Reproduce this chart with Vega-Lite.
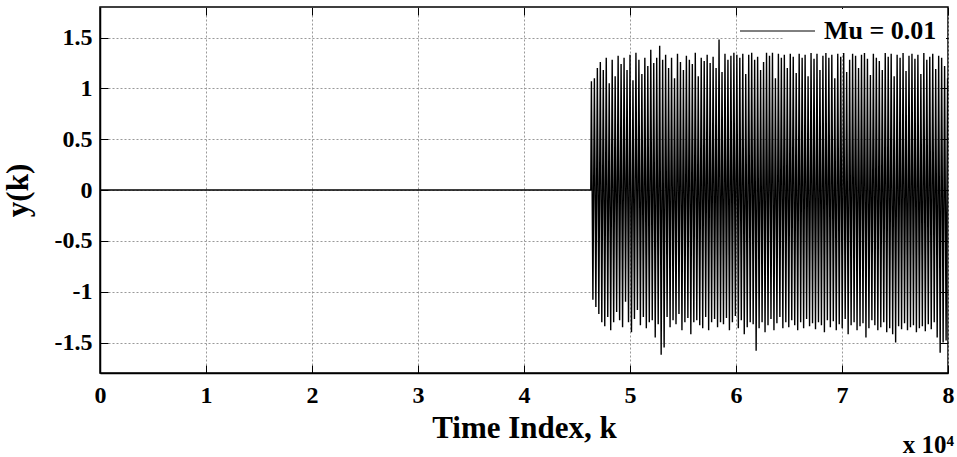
{
"$schema": "https://vega.github.io/schema/vega-lite/v6.json",
"width": 848, "height": 366,
"autosize": {"type": "none"},
"padding": {"left": 100, "top": 7, "right": 9, "bottom": 84},
"background": "white",
"config": {
  "font": "Liberation Serif",
  "view": {"stroke": "black", "strokeWidth": 1.5},
  "title": {"font": "Liberation Serif", "fontSize": 25, "fontWeight": "bold", "color": "black"},
  "axis": {"labelFont": "Liberation Serif", "labelFontWeight": "bold", "labelFontSize": 24, "labelColor": "black", "labelFlush": false,
    "titleFont": "Liberation Serif", "titleFontWeight": "bold", "titleFontSize": 31, "titleColor": "black",
    "domainColor": "black", "domainWidth": 1.5, "tickColor": "black", "tickSize": -8, "tickWidth": 1,
    "gridColor": "#999999", "gridDash": [2, 2], "gridWidth": 1}
},
"title": {"text": "x 10⁴", "orient": "bottom", "anchor": "end", "font": "Liberation Serif", "fontSize": 25, "fontWeight": "bold", "color": "black", "offset": -10},
"datasets": {"sig": [
{"k":0,"y":0},{"k":4.630,"y":0},
{"k":4.636,"y":1.07},{"k":4.650,"y":-1.08},{"k":4.664,"y":1.10},{"k":4.678,"y":-1.15},{"k":4.692,"y":1.20},{"k":4.706,"y":-1.22},{"k":4.720,"y":1.26},{"k":4.734,"y":-1.30},{"k":4.748,"y":1.18},{"k":4.762,"y":-1.34},
{"k":4.776,"y":1.30},{"k":4.790,"y":-1.25},{"k":4.804,"y":1.05},{"k":4.818,"y":-1.38},{"k":4.832,"y":1.28},{"k":4.846,"y":-1.30},{"k":4.860,"y":1.12},{"k":4.874,"y":-1.20},{"k":4.888,"y":1.32},{"k":4.902,"y":-1.28},
{"k":4.916,"y":1.24},{"k":4.930,"y":-1.35},{"k":4.944,"y":1.30},{"k":4.958,"y":-1.10},{"k":4.972,"y":1.18},{"k":4.986,"y":-1.30},{"k":5.000,"y":1.33},{"k":5.014,"y":-1.40},{"k":5.028,"y":1.08},{"k":5.042,"y":-1.27},
{"k":5.056,"y":1.35},{"k":5.070,"y":-1.18},{"k":5.084,"y":1.28},{"k":5.098,"y":-1.33},{"k":5.112,"y":1.14},{"k":5.126,"y":-1.25},{"k":5.140,"y":1.30},{"k":5.154,"y":-1.36},{"k":5.168,"y":1.22},{"k":5.182,"y":-1.30},
{"k":5.196,"y":1.38},{"k":5.210,"y":-1.28},{"k":5.224,"y":1.25},{"k":5.238,"y":-1.45},{"k":5.252,"y":1.30},{"k":5.266,"y":-1.32},{"k":5.280,"y":1.42},{"k":5.294,"y":-1.62},{"k":5.308,"y":1.28},{"k":5.322,"y":-1.55},
{"k":5.336,"y":1.33},{"k":5.350,"y":-1.25},{"k":5.364,"y":1.20},{"k":5.378,"y":-1.35},{"k":5.392,"y":1.30},{"k":5.406,"y":-1.28},{"k":5.420,"y":1.10},{"k":5.434,"y":-1.32},{"k":5.448,"y":1.34},{"k":5.462,"y":-1.22},
{"k":5.476,"y":1.26},{"k":5.490,"y":-1.38},{"k":5.504,"y":1.18},{"k":5.518,"y":-1.30},{"k":5.532,"y":1.32},{"k":5.546,"y":-1.26},{"k":5.560,"y":1.28},{"k":5.574,"y":-1.42},{"k":5.588,"y":1.24},{"k":5.602,"y":-1.30},
{"k":5.616,"y":1.35},{"k":5.630,"y":-1.28},{"k":5.644,"y":1.12},{"k":5.658,"y":-1.33},{"k":5.672,"y":1.30},{"k":5.686,"y":-1.36},{"k":5.700,"y":1.27},{"k":5.714,"y":-1.25},{"k":5.728,"y":1.33},{"k":5.742,"y":-1.38},
{"k":5.756,"y":1.25},{"k":5.770,"y":-1.30},{"k":5.784,"y":1.31},{"k":5.798,"y":-1.27},{"k":5.812,"y":1.20},{"k":5.826,"y":-1.35},{"k":5.840,"y":1.48},{"k":5.854,"y":-1.30},{"k":5.868,"y":1.16},{"k":5.882,"y":-1.32},
{"k":5.896,"y":1.34},{"k":5.910,"y":-1.26},{"k":5.924,"y":1.28},{"k":5.938,"y":-1.38},{"k":5.952,"y":1.32},{"k":5.966,"y":-1.30},{"k":5.980,"y":1.35},{"k":5.994,"y":-1.24},{"k":6.008,"y":1.33},{"k":6.022,"y":-1.36},
{"k":6.036,"y":1.30},{"k":6.050,"y":-1.28},{"k":6.064,"y":1.34},{"k":6.078,"y":-1.42},{"k":6.092,"y":1.14},{"k":6.106,"y":-1.35},{"k":6.120,"y":1.33},{"k":6.134,"y":-1.30},{"k":6.148,"y":1.35},{"k":6.162,"y":-1.32},
{"k":6.176,"y":1.28},{"k":6.190,"y":-1.58},{"k":6.204,"y":1.31},{"k":6.218,"y":-1.36},{"k":6.232,"y":1.18},{"k":6.246,"y":-1.30},{"k":6.260,"y":1.26},{"k":6.274,"y":-1.40},{"k":6.288,"y":1.35},{"k":6.302,"y":-1.33},
{"k":6.316,"y":1.32},{"k":6.330,"y":-1.27},{"k":6.344,"y":1.35},{"k":6.358,"y":-1.38},{"k":6.372,"y":1.10},{"k":6.386,"y":-1.31},{"k":6.400,"y":1.34},{"k":6.414,"y":-1.25},{"k":6.428,"y":1.30},{"k":6.442,"y":-1.36},
{"k":6.456,"y":1.33},{"k":6.470,"y":-1.30},{"k":6.484,"y":1.20},{"k":6.498,"y":-1.35},{"k":6.512,"y":1.34},{"k":6.526,"y":-1.28},{"k":6.540,"y":1.31},{"k":6.554,"y":-1.33},{"k":6.568,"y":1.15},{"k":6.582,"y":-1.38},
{"k":6.596,"y":1.34},{"k":6.610,"y":-1.30},{"k":6.624,"y":1.30},{"k":6.638,"y":-1.36},{"k":6.652,"y":1.33},{"k":6.666,"y":-1.27},{"k":6.680,"y":1.12},{"k":6.694,"y":-1.34},{"k":6.708,"y":1.35},{"k":6.722,"y":-1.31},
{"k":6.736,"y":1.29},{"k":6.750,"y":-1.37},{"k":6.764,"y":1.34},{"k":6.778,"y":-1.30},{"k":6.792,"y":1.18},{"k":6.806,"y":-1.33},{"k":6.820,"y":1.32},{"k":6.834,"y":-1.40},{"k":6.848,"y":1.35},{"k":6.862,"y":-1.28},
{"k":6.876,"y":1.30},{"k":6.890,"y":-1.35},{"k":6.904,"y":1.33},{"k":6.918,"y":-1.29},{"k":6.932,"y":1.10},{"k":6.946,"y":-1.38},{"k":6.960,"y":1.34},{"k":6.974,"y":-1.32},{"k":6.988,"y":1.31},{"k":7.002,"y":-1.36},
{"k":7.016,"y":1.35},{"k":7.030,"y":-1.27},{"k":7.044,"y":1.16},{"k":7.058,"y":-1.42},{"k":7.072,"y":1.28},{"k":7.086,"y":-1.33},{"k":7.100,"y":1.34},{"k":7.114,"y":-1.30},{"k":7.128,"y":1.32},{"k":7.142,"y":-1.38},
{"k":7.156,"y":1.20},{"k":7.170,"y":-1.34},{"k":7.184,"y":1.33},{"k":7.198,"y":-1.31},{"k":7.212,"y":1.35},{"k":7.226,"y":-1.45},{"k":7.240,"y":1.29},{"k":7.254,"y":-1.36},{"k":7.268,"y":1.13},{"k":7.282,"y":-1.28},
{"k":7.296,"y":1.34},{"k":7.310,"y":-1.33},{"k":7.324,"y":1.30},{"k":7.338,"y":-1.38},{"k":7.352,"y":1.27},{"k":7.366,"y":-1.35},{"k":7.380,"y":1.18},{"k":7.394,"y":-1.30},{"k":7.408,"y":1.35},{"k":7.422,"y":-1.40},
{"k":7.436,"y":1.31},{"k":7.450,"y":-1.36},{"k":7.464,"y":1.34},{"k":7.478,"y":-1.42},{"k":7.492,"y":1.12},{"k":7.506,"y":-1.50},{"k":7.520,"y":1.33},{"k":7.534,"y":-1.34},{"k":7.548,"y":1.30},{"k":7.562,"y":-1.37},
{"k":7.576,"y":1.35},{"k":7.590,"y":-1.31},{"k":7.604,"y":1.17},{"k":7.618,"y":-1.38},{"k":7.632,"y":1.32},{"k":7.646,"y":-1.35},{"k":7.660,"y":1.34},{"k":7.674,"y":-1.33},{"k":7.688,"y":1.29},{"k":7.702,"y":-1.40},
{"k":7.716,"y":1.33},{"k":7.730,"y":-1.36},{"k":7.744,"y":1.14},{"k":7.758,"y":-1.34},{"k":7.772,"y":1.35},{"k":7.786,"y":-1.39},{"k":7.800,"y":1.28},{"k":7.814,"y":-1.32},{"k":7.828,"y":1.31},{"k":7.842,"y":-1.37},
{"k":7.856,"y":1.34},{"k":7.870,"y":-1.30},{"k":7.884,"y":1.19},{"k":7.898,"y":-1.45},{"k":7.912,"y":1.32},{"k":7.926,"y":-1.60},{"k":7.940,"y":1.30},{"k":7.954,"y":-1.50},{"k":7.968,"y":1.22},{"k":7.982,"y":-1.48},
{"k":7.996,"y":1.10}
]},
"layer": [
  {
    "data": {"name": "sig"},
    "mark": {"type": "line", "strokeWidth": 1.4, "clip": true},
    "encoding": {
      "x": {"field": "k", "type": "quantitative", "scale": {"domain": [0, 8], "nice": false, "zero": false},
        "axis": {"values": [0,1,2,3,4,5,6,7,8], "title": "Time Index, k", "grid": true, "labelPadding": 18, "titlePadding": 6, "labelExpr": "'' + datum.value"}},
      "y": {"field": "y", "type": "quantitative", "scale": {"domain": [-1.8, 1.8], "nice": false, "zero": false},
        "axis": {"values": [-1.5,-1,-0.5,0,0.5,1,1.5], "title": "y(k)", "grid": true, "labelPadding": 16, "titlePadding": 20, "labelExpr": "'' + datum.value"}},
      "color": {"datum": "Mu = 0.01", "type": "nominal", "scale": {"range": ["black"]},
        "legend": {"title": null, "orient": "top-right", "offset": 2, "padding": 9, "fillColor": "white",
          "symbolType": "M-6.5,0H1", "symbolSize": 400, "symbolStrokeWidth": 1, "symbolStrokeColor": "black", "symbolFillColor": "transparent",
          "labelFont": "Liberation Serif", "labelFontSize": 26, "labelFontWeight": "bold", "labelColor": "black", "labelOffset": 6, "labelLimit": 300}}
    }
  },
  {
    "data": {"values": [{"k": 0, "y": 0}]},
    "mark": {"type": "point", "opacity": 0},
    "encoding": {
      "x": {"field": "k", "type": "quantitative", "scale": {"domain": [0, 8], "nice": false, "zero": false},
        "axis": {"orient": "top", "values": [0,1,2,3,4,5,6,7,8], "labels": false, "title": null, "grid": false, "domain": false}},
      "y": {"field": "y", "type": "quantitative", "scale": {"domain": [-1.8, 1.8], "nice": false, "zero": false},
        "axis": {"orient": "right", "values": [-1.5,-1,-0.5,0,0.5,1,1.5], "labels": false, "title": null, "grid": false, "domain": false}}
    }
  }
],
"resolve": {"axis": {"x": "independent", "y": "independent"}}
}
